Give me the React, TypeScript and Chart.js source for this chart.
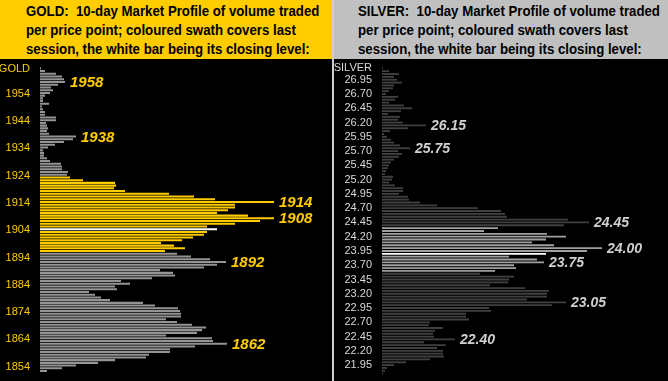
import React, { useEffect, useRef } from 'react';
import { Chart, registerables } from 'chart.js';
Chart.register(...registerables);

// ---------- GOLD ----------
const goldPrices = [
  '1963','1962','1961','1960','1959','1958','1957','1956','1955','1954',
  '1953','1952','1951','1950','1949','1948','1947','1946','1945','1944',
  '1943','1942','1941','1940','1939','1938','1937','1936','1935','1934',
  '1933','1932','1931','1930','1929','1928','1927','1926','1925','1924',
  '1923','1922','1921','1920','1919','1918','1917','1916','1915','1914',
  '1913','1912','1911','1910','1909','1908','1907','1906','1905','1904',
  '1903','1902','1901','1900','1899','1898','1897','1896','1895','1894',
  '1893','1892','1891','1890','1889','1888','1887','1886','1885','1884',
  '1883','1882','1881','1880','1879','1878','1877','1876','1875','1874',
  '1873','1872','1871','1870','1869','1868','1867','1866','1865','1864',
  '1863','1862','1861','1860','1859','1858','1857','1856','1855','1854',
  '1853','1852'
];
const goldVolume = [
  1, 5, 16, 22, 24, 25, 18, 11, 13, 10,
  5, 3, 3, 9, 2, 3, 5, 5, 16, 16,
  6, 7, 8, 7, 9, 36, 33, 24, 15, 8,
  3, 4, 4, 7, 10, 21, 22, 22, 28, 27,
  30, 43, 75, 76, 74, 85, 129, 154, 175, 234,
  195, 195, 188, 177, 208, 234, 220, 195, 167, 177,
  167, 164, 153, 142, 121, 134, 145, 125, 137, 151,
  170, 186, 177, 164, 120, 133, 135, 112, 81, 90,
  75, 77, 49, 55, 61, 70, 103, 115, 138, 140,
  141, 141, 126, 137, 152, 166, 162, 157, 126, 172,
  173, 187, 155, 130, 130, 109, 106, 75, 58, 36,
  22, 7
];
const goldTickLabels = ['1954','1944','1934','1924','1914','1904','1894','1884','1874','1864','1854'];
const goldPeaks = ['1958','1938','1914','1908','1892','1862'];
const goldSwathTop = '1923';
const goldSwathBottom = '1896';
const goldClose = '1904';
const goldTitle = [
  'GOLD:  10-day Market Profile of volume traded',
  'per price point; coloured swath covers last',
  'session, the white bar being its closing level:'
];

// ---------- SILVER ----------
const silverPrices = [
  '27.15','27.10','27.05','27.00','26.95','26.90','26.85','26.80','26.75','26.70',
  '26.65','26.60','26.55','26.50','26.45','26.40','26.35','26.30','26.25','26.20',
  '26.15','26.10','26.05','26.00','25.95','25.90','25.85','25.80','25.75','25.70',
  '25.65','25.60','25.55','25.50','25.45','25.40','25.35','25.30','25.25','25.20',
  '25.15','25.10','25.05','25.00','24.95','24.90','24.85','24.80','24.75','24.70',
  '24.65','24.60','24.55','24.50','24.45','24.40','24.35','24.30','24.25','24.20',
  '24.15','24.10','24.05','24.00','23.95','23.90','23.85','23.80','23.75','23.70',
  '23.65','23.60','23.55','23.50','23.45','23.40','23.35','23.30','23.25','23.20',
  '23.15','23.10','23.05','23.00','22.95','22.90','22.85','22.80','22.75','22.70',
  '22.65','22.60','22.55','22.50','22.45','22.40','22.35','22.30','22.25','22.20',
  '22.15','22.10','22.05','22.00','21.95','21.90','21.85','21.80'
];
const silverVolume = [
  1, 7, 17, 12, 15, 20, 12, 11, 7, 4,
  16, 13, 7, 22, 30, 19, 6, 18, 16, 21,
  44, 26, 8, 2, 5, 9, 12, 18, 28, 16,
  20, 17, 12, 9, 7, 6, 4, 3, 11, 10,
  7, 13, 21, 21, 17, 26, 27, 38, 55, 96,
  119, 123, 125, 186, 207, 182, 116, 102, 165, 184,
  164, 150, 172, 220, 205, 164, 127, 155, 162, 132,
  134, 113, 98, 132, 127, 126, 108, 143, 167, 165,
  165, 145, 184, 170, 107, 109, 84, 84, 87, 48,
  47, 61, 53, 51, 52, 73, 42, 64, 55, 61,
  61, 62, 48, 24, 12, 5, 3, 1
];
const silverTickLabels = [
  '26.95','26.70','26.45','26.20','25.95','25.70','25.45','25.20','24.95','24.70',
  '24.45','24.20','23.95','23.70','23.45','23.20','22.95','22.70','22.45','22.20','21.95'
];
const silverPeaks = ['26.15','25.75','24.45','24.00','23.75','23.05','22.40'];
const silverSwathTop = '24.35';
const silverSwathBottom = '23.60';
const silverClose = '23.90';
const silverTitle = [
  'SILVER:  10-day Market Profile of volume traded',
  'per price point; coloured swath covers last',
  'session, the white bar being its closing level:'
];

const FONT = '"Liberation Sans", Arial, Helvetica, sans-serif';

type PanelProps = {
  left: number;
  width: number;
  headerBg: string;
  titleLeft: number;
  title: string[];
  axisName: string;
  labels: string[];
  values: number[];
  tickLabels: string[];
  peaks: string[];
  swathTop: string;
  swathBottom: string;
  close: string;
  baseColor: string;
  swathColor: string;
  tickColor: string;
  peakColor: string;
  peakSize: number;
  axisWidth: number;
  padTop: number;
  padBottom: number;
  barPct: number;
  labelOffset: number;
};

function Panel(p: PanelProps) {
  const ref = useRef<HTMLCanvasElement | null>(null);
  const canvasH = 322;
  useEffect(() => {
    const canvas = ref.current;
    if (!canvas) return;
    const iTop = p.labels.indexOf(p.swathTop);
    const iBot = p.labels.indexOf(p.swathBottom);
    const iClose = p.labels.indexOf(p.close);
    const colors = p.labels.map((_, i) =>
      i === iClose ? '#ffffff' : i >= iTop && i <= iBot ? p.swathColor : p.baseColor
    );
    const peakPlugin = {
      id: 'peaks',
      afterDatasetsDraw(chart: any) {
        const meta = chart.getDatasetMeta(0);
        const ctx = chart.ctx;
        ctx.save();
        ctx.font = `italic bold ${p.peakSize}px ${FONT}`;
        ctx.fillStyle = p.peakColor;
        ctx.textBaseline = 'middle';
        ctx.textAlign = 'left';
        p.peaks.forEach((lab) => {
          const i = p.labels.indexOf(lab);
          const el = meta.data[i];
          if (el) ctx.fillText(lab, el.x + 5, el.y + 1);
        });
        ctx.restore();
      }
    };
    const chart = new Chart(canvas, {
      type: 'bar',
      data: {
        labels: p.labels,
        datasets: [
          {
            data: p.values,
            backgroundColor: colors,
            borderWidth: 0,
            barPercentage: p.barPct,
            categoryPercentage: 1
          }
        ]
      },
      options: {
        indexAxis: 'y',
        responsive: false,
        animation: false,
        events: [],
        layout: { padding: { top: p.padTop, bottom: p.padBottom, left: 0, right: 0 } },
        plugins: {
          legend: { display: false },
          tooltip: { enabled: false },
          title: { display: false }
        },
        scales: {
          x: {
            display: false,
            min: 0,
            max: p.width - p.axisWidth,
            grid: { display: false }
          },
          y: {
            type: 'category',
            grid: { display: false, drawTicks: false },
            border: { display: false },
            ticks: {
              autoSkip: false,
              padding: 10,
              labelOffset: p.labelOffset,
              color: p.tickColor,
              font: { family: FONT, size: 11 },
              callback: (_v: any, i: number) =>
                i === 0 ? p.axisName : p.tickLabels.includes(p.labels[i]) ? p.labels[i] : ''
            },
            afterFit: (s: any) => {
              s.width = p.axisWidth;
              s.paddingTop = 0;
              s.paddingBottom = 0;
            }
          }
        }
      } as any,
      plugins: [peakPlugin]
    });
    return () => chart.destroy();
  }, []);

  return (
    <div
      style={{
        position: 'absolute',
        left: p.left,
        top: 0,
        width: p.width,
        height: 381,
        background: '#000',
        overflow: 'hidden'
      }}
    >
      <div
        style={{
          height: 59,
          background: p.headerBg,
          boxSizing: 'border-box',
          paddingLeft: p.titleLeft,
          paddingTop: 2,
          overflow: 'hidden'
        }}
      >
        <div
          style={{
            fontFamily: FONT,
            fontWeight: 'bold',
            fontSize: 14,
            lineHeight: '19px',
            color: '#000',
            whiteSpace: 'pre',
            transform: 'scaleX(0.945)',
            transformOrigin: 'left top'
          }}
        >
          {p.title.map((t, i) => (
            <div key={i}>{t}</div>
          ))}
        </div>
      </div>
      <canvas
        ref={ref}
        width={p.width}
        height={canvasH}
        style={{ display: 'block', width: p.width, height: canvasH }}
      />
    </div>
  );
}

export default function App() {
  return (
    <div
      style={{
        position: 'fixed',
        left: 0,
        top: 0,
        width: 668,
        height: 381,
        background: '#cfcfcf',
        overflow: 'hidden'
      }}
    >
      <Panel
        left={0}
        width={332}
        headerBg="#ffcc00"
        titleLeft={26}
        title={goldTitle}
        axisName="GOLD"
        labels={goldPrices}
        values={goldVolume}
        tickLabels={goldTickLabels}
        peaks={goldPeaks}
        swathTop={goldSwathTop}
        swathBottom={goldSwathBottom}
        close={goldClose}
        baseColor="#949494"
        swathColor="#ffcc00"
        tickColor="#ffcc00"
        peakColor="#ffcc00"
        peakSize={15}
        axisWidth={40}
        padTop={8}
        padBottom={8.6}
        barPct={0.75}
        labelOffset={1}
      />
      <Panel
        left={334}
        width={334}
        headerBg="#c0c0c0"
        titleLeft={24}
        title={silverTitle}
        axisName="SILVER"
        labels={silverPrices}
        values={silverVolume}
        tickLabels={silverTickLabels}
        peaks={silverPeaks}
        swathTop={silverSwathTop}
        swathBottom={silverSwathBottom}
        close={silverClose}
        baseColor="#404040"
        swathColor="#a0a0a0"
        tickColor="#d8d8d8"
        peakColor="#d0d0d0"
        peakSize={14}
        axisWidth={48}
        padTop={7.9}
        padBottom={5.9}
        barPct={0.65}
        labelOffset={0}
      />
    </div>
  );
}
